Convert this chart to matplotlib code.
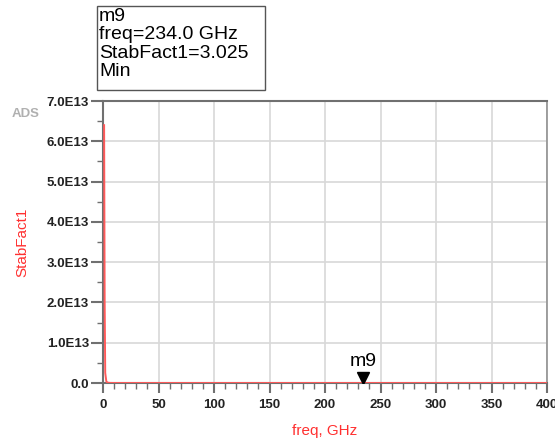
import matplotlib.pyplot as plt
from matplotlib.patches import Rectangle
from matplotlib.ticker import MultipleLocator
from matplotlib.transforms import offset_copy

# StabFact1 vs frequency (sparse sweep points)
freq_ghz = [1, 1.5, 2, 3, 4, 6, 10, 20, 50, 100, 150, 200, 234, 250, 300, 350, 400]
stab_fact = [6.4e13, 2.0e13, 2.5e12, 4.0e11, 1.0e11, 2.0e10, 3.0e9, 2.0e8,
             1.0e6, 2.0e3, 60.0, 8.0, 3.025, 3.3, 4.1, 5.0, 6.0]

marker_name = "m9"
marker_freq = 234.0
marker_val = 3.025

y_ticks = [0, 1e13, 2e13, 3e13, 4e13, 5e13, 6e13, 7e13]
y_labels = ["0.0", "1.0E13", "2.0E13", "3.0E13", "4.0E13", "5.0E13", "6.0E13", "7.0E13"]
x_ticks = [0, 50, 100, 150, 200, 250, 300, 350, 400]

plt.rcParams['font.family'] = ['Liberation Sans', 'DejaVu Sans']

fig = plt.figure(figsize=(5.55, 4.45), dpi=100)
ax = fig.add_axes([103 / 555, 62 / 445, 444 / 555, 282 / 445])

ax.plot(freq_ghz, stab_fact, color='#ff5a5a', lw=1.4, zorder=3)

ax.set_xlim(0, 400)
ax.set_ylim(0, 7e13)
ax.set_xticks(x_ticks)
ax.set_xticklabels([str(v) for v in x_ticks])
ax.set_yticks(y_ticks)
ax.set_yticklabels(y_labels)
ax.xaxis.set_minor_locator(MultipleLocator(10))
ax.yaxis.set_minor_locator(MultipleLocator(0.5e13))

ax.grid(True, which='major', color='#d8d8d8', lw=1.2, zorder=0)
ax.tick_params(which='major', width=1.5, color='#707070',
               labelsize=9.5, labelcolor='#222222')
ax.tick_params(axis='x', which='major', length=7.5, pad=4)
ax.tick_params(axis='y', which='major', length=8.5, pad=1.5)
ax.tick_params(which='minor', length=4.5, width=1.0, color='#707070')
for lbl in ax.get_xticklabels() + ax.get_yticklabels():
    lbl.set_fontweight('bold')

for side in ['left', 'top', 'bottom']:
    ax.spines[side].set_color('#707070')
    ax.spines[side].set_linewidth(1.5)
ax.spines['right'].set_color('#909090')
ax.spines['right'].set_linewidth(1.2)

ax.set_xlabel('freq, GHz', color='#ff3030', fontsize=11, va='center')
ax.set_ylabel('StabFact1', color='#ff3030', fontsize=11, va='center')
ax.xaxis.set_label_coords(0.5, -48 / 282)
ax.yaxis.set_label_coords(-81 / 444, 0.5)

# marker triangle sitting on the trace, with its name above
tri_trans = offset_copy(ax.transData, fig=fig, x=0, y=5, units='dots')
ax.plot([marker_freq], [marker_val], marker='v', color='black', markersize=8,
        linestyle='none', zorder=4, transform=tri_trans)
ax.annotate(marker_name, (marker_freq, marker_val), xytext=(0, 9),
            textcoords='offset points', ha='center', va='bottom', fontsize=14)

# ADS watermark
fig.text(12 / 555, 1 - 114 / 445, 'ADS', color='#b0b0b0', fontsize=9.5,
         fontweight='bold', va='center', ha='left')

# marker readout box
box = Rectangle((97 / 555, 1 - 90 / 445), 168 / 555, 84 / 445,
                transform=fig.transFigure, fill=False, edgecolor='#555555', lw=1.0)
fig.add_artist(box)
readout = f"{marker_name}\nfreq={marker_freq:.1f} GHz\nStabFact1={marker_val}\nMin"
fig.text(99 / 555, 1 - 8 / 445, readout, fontsize=14, va='top', ha='left',
         linespacing=1.1)

fig.savefig('out.png', dpi=100)
